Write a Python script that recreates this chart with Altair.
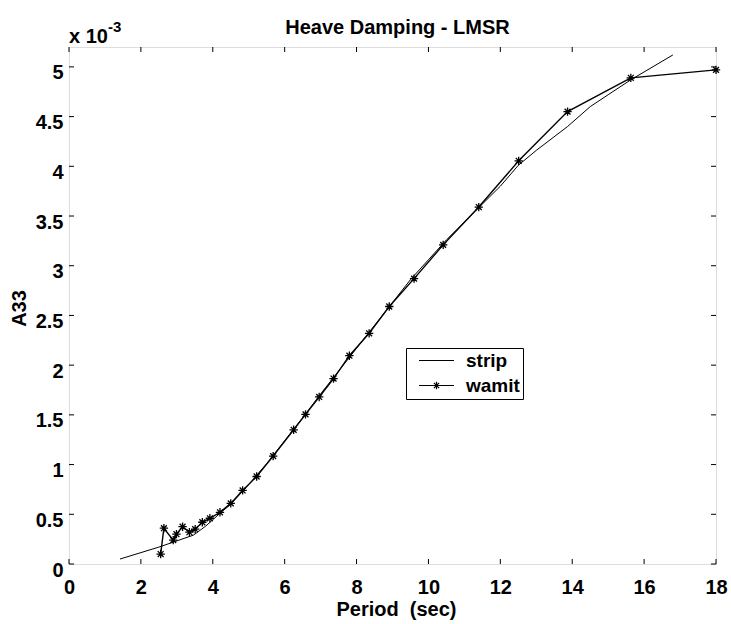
import altair as alt
import pandas as pd

# ---- data (A33 in units of 1e-3) ----
wamit_T = [2.55, 2.64, 2.90, 2.99, 3.16, 3.35, 3.51, 3.71, 3.92, 4.20, 4.50, 4.83,
           5.22, 5.68, 6.25, 6.58, 6.96, 7.36, 7.80, 8.35, 8.91, 9.60, 10.41,
           11.40, 12.51, 13.87, 15.63, 18.0]
wamit_A = [0.10, 0.36, 0.24, 0.30, 0.375, 0.32, 0.35, 0.42, 0.46, 0.52, 0.61, 0.74,
           0.88, 1.085, 1.35, 1.505, 1.68, 1.865, 2.095, 2.32, 2.59, 2.87, 3.21,
           3.59, 4.055, 4.55, 4.89, 4.97]
strip_T = [1.42, 2.5, 3.46, 3.8, 4.2, 4.5, 5.0, 5.5, 6.0, 6.5, 7.0, 7.5, 8.0, 8.5,
           9.0, 9.5, 10.0, 10.5, 11.0, 11.5, 12.0, 12.5, 13.0, 13.87, 14.5, 15.0,
           15.63, 16.8]
strip_A = [0.05, 0.17, 0.29, 0.38, 0.51, 0.60, 0.80, 1.01, 1.24, 1.47, 1.71, 1.94,
           2.17, 2.40, 2.63, 2.86, 3.06, 3.26, 3.44, 3.62, 3.80, 4.01, 4.16, 4.40,
           4.60, 4.72, 4.87, 5.12]
x_ticks = [0, 2, 4, 6, 8, 10, 12, 14, 16, 18]
y_ticks = [0, 0.5, 1, 1.5, 2, 2.5, 3, 3.5, 4, 4.5, 5]
series_names = ["strip", "wamit"]

W, H = 647, 517
FONT = "Liberation Sans"
STAR = "M-1,0H1M0,-1V1M-0.7,-0.7L0.7,0.7M-0.7,0.7L0.7,-0.7"
LEG_STRIP = "M-3,0H3"
LEG_WAMIT = "M-3,0H3M0,-0.65V0.65M-0.45,-0.45L0.45,0.45M-0.45,0.45L0.45,-0.45"

wamit = pd.DataFrame({"T": wamit_T, "A": wamit_A, "series": "wamit"})
strip = pd.DataFrame({"T": strip_T, "A": strip_A, "series": "strip"})
xt = pd.DataFrame({"T": x_ticks})
yt = pd.DataFrame({"A": y_ticks})

xscale = alt.Scale(domain=[0, 18], nice=False, zero=False)
yscale = alt.Scale(domain=[0, 5.2], nice=False, zero=False)

xaxis = alt.Axis(values=x_ticks, format="d", title="Period\u00a0 (sec)",
                 ticks=False, tickSize=0, domain=False, grid=False,
                 labelFont=FONT, labelFontSize=20, labelFontWeight="bold",
                 labelColor="black", labelPadding=13, labelFlush=False,
                 labelOverlap=False,
                 titleFont=FONT, titleFontSize=20, titleFontWeight="bold",
                 titleColor="black", titleX=327, titleY=45,
                 titleBaseline="middle", titleAlign="center")
yaxis = alt.Axis(values=y_ticks, format="~g", title="A33",
                 ticks=False, tickSize=0, domain=False, grid=False,
                 labelFont=FONT, labelFontSize=20, labelFontWeight="bold",
                 labelColor="black", labelPadding=6, labelOffset=6,
                 labelFlush=False, labelOverlap=False,
                 titleFont=FONT, titleFontSize=20, titleFontWeight="bold",
                 titleColor="black", titleX=-50, titleY=261, titleAngle=-90,
                 titleBaseline="middle", titleAlign="center")

X = alt.X("T:Q", scale=xscale, axis=xaxis)
Y = alt.Y("A:Q", scale=yscale, axis=yaxis)

strip_line = alt.Chart(strip).mark_line(color="black", strokeWidth=1).encode(x=X, y=Y)
wamit_line = alt.Chart(wamit).mark_line(color="black", strokeWidth=1.4).encode(
    x="T:Q", y="A:Q")
wamit_pts = alt.Chart(wamit).mark_point(
    shape=STAR, size=70, color="black", strokeWidth=1.3, filled=False, opacity=1
).encode(x="T:Q", y="A:Q")

legend_layer = alt.Chart(wamit).transform_filter("datum.T < 0").mark_point(
    color="black", filled=False, opacity=1, strokeWidth=1.2
).encode(
    x="T:Q", y="A:Q",
    shape=alt.Shape("series:N",
                    scale=alt.Scale(domain=series_names, range=[LEG_STRIP, LEG_WAMIT]),
                    legend=alt.Legend(title=None, orient="none", legendX=337, legendY=301,
                                      strokeColor="black", fillColor="white", padding=3,
                                      symbolSize=136, symbolStrokeWidth=1.2,
                                      symbolStrokeColor="black",
                                      symbolFillColor="transparent",
                                      symbolOffset=18, labelOffset=20,
                                      rowPadding=5,
                                      labelFont=FONT, labelFontSize=19,
                                      labelFontWeight="bold", labelColor="black"))
)

# inward ticks on all four sides
t_bottom = alt.Chart(xt).mark_rule(color="black", strokeWidth=1).encode(
    x="T:Q", y=alt.value(H), y2=alt.value(H - 5))
t_top = alt.Chart(xt).mark_rule(color="black", strokeWidth=1).encode(
    x="T:Q", y=alt.value(0), y2=alt.value(5))
t_left = alt.Chart(yt).mark_rule(color="black", strokeWidth=1).encode(
    y="A:Q", x=alt.value(0), x2=alt.value(5))
t_right = alt.Chart(yt).mark_rule(color="black", strokeWidth=1).encode(
    y="A:Q", x=alt.value(W - 5), x2=alt.value(W))

exp_base = alt.Chart(xt).transform_filter("datum.T == 0").mark_text(
    text="x 10", align="left", baseline="alphabetic", font=FONT, fontSize=20,
    fontWeight="bold", color="black"
).encode(x=alt.value(0), y=alt.value(-4))
exp_sup = alt.Chart(xt).transform_filter("datum.T == 0").mark_text(
    text="-3", align="left", baseline="alphabetic", font=FONT, fontSize=15,
    fontWeight="bold", color="black"
).encode(x=alt.value(39), y=alt.value(-15))

chart = alt.layer(
    strip_line, wamit_line, wamit_pts, legend_layer,
    t_bottom, t_top, t_left, t_right, exp_base, exp_sup
).properties(
    width=W, height=H,
    title=alt.TitleParams("Heave Damping - LMSR", font=FONT, fontSize=20,
                          fontWeight="bold", color="black", anchor="middle",
                          offset=7, dx=5, dy=25),
    autosize=alt.AutoSizeParams(type="none"),
    padding={"left": 69, "top": 47, "right": 15, "bottom": 60},
).configure_view(stroke="black", strokeWidth=1).configure(background="white")

chart.save("out.html", embed_options={"renderer": "svg", "actions": False})
